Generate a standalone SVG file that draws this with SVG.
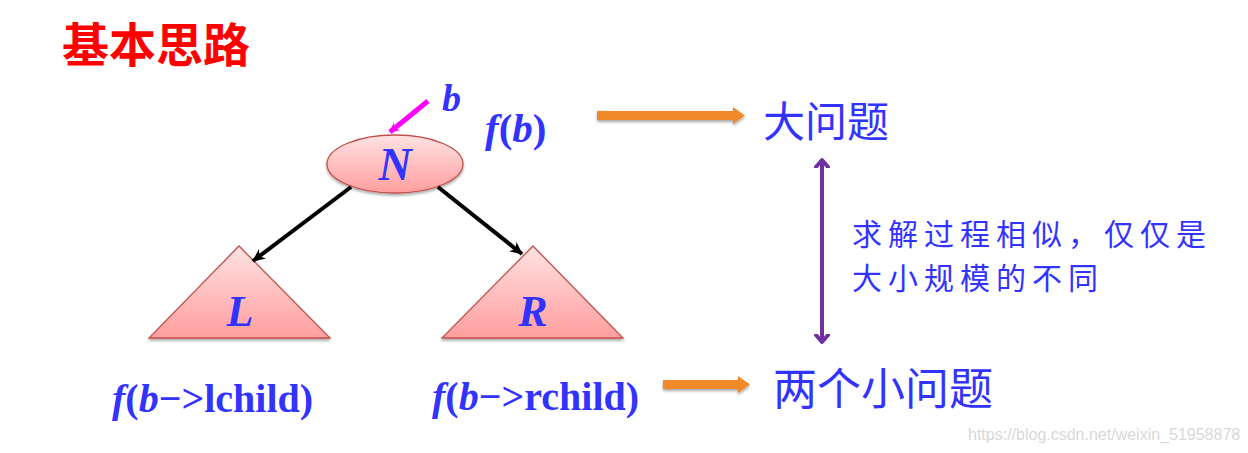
<svg xmlns="http://www.w3.org/2000/svg" width="1248" height="453" viewBox="0 0 1248 453">
<style>
.lat{font-family:"Liberation Serif","Times New Roman",serif;font-weight:bold;fill:#3333ff}
.it{font-style:italic}
.cjk{font-family:"Noto Sans CJK SC","Noto Sans CJK TC",sans-serif;fill:#3333ff}
.shape{fill:url(#pink);stroke:#c0504d;stroke-width:1.3}
</style>
<defs>
<linearGradient id="pink" x1="0" y1="0" x2="0" y2="1">
<stop offset="0" stop-color="#ffe2e2"/>
<stop offset="1" stop-color="#ff9e9e"/>
</linearGradient>
<filter id="sh" x="-20%" y="-20%" width="140%" height="160%">
<feGaussianBlur in="SourceAlpha" stdDeviation="1.5"/>
<feOffset dy="2" result="b"/>
<feComponentTransfer><feFuncA type="linear" slope="0.35"/></feComponentTransfer>
<feMerge><feMergeNode/><feMergeNode in="SourceGraphic"/></feMerge>
</filter>
<marker id="blk" markerWidth="14" markerHeight="12" refX="12" refY="6" orient="auto" markerUnits="userSpaceOnUse">
<path d="M0,0 L13,6 L0,12 L4,6 Z" fill="#000"/>
</marker>
<marker id="mag" markerWidth="12" markerHeight="12" refX="9" refY="6" orient="auto" markerUnits="userSpaceOnUse">
<path d="M0,1 L10,6 L0,11 L3,6 Z" fill="#ff00ff"/>
</marker>
<marker id="pur" markerWidth="16" markerHeight="16" refX="8" refY="8" orient="auto-start-reverse" markerUnits="userSpaceOnUse">
<path d="M1,2 L8,8 L1,14" fill="none" stroke="#7030a0" stroke-width="4" stroke-linecap="round" stroke-linejoin="round"/>
</marker>
</defs>
<rect width="1248" height="453" fill="#fff"/>

<text x="62" y="62" font-family="Noto Sans CJK SC,sans-serif" font-weight="bold" font-size="47" fill="#ff0000">基本思路</text>

<g id="node-N">
<ellipse class="shape" cx="395" cy="164" rx="68" ry="29" filter="url(#sh)"/>
<text class="lat it" x="395" y="180" font-size="46" text-anchor="middle">N</text>
</g>
<g id="node-L">
<polygon class="shape" points="239,246 330,338 149,338" filter="url(#sh)"/>
<text class="lat it" x="240" y="326" font-size="44" text-anchor="middle">L</text>
</g>
<g id="node-R">
<polygon class="shape" points="533,246 623,338 442,338" filter="url(#sh)"/>
<text class="lat it" x="533" y="326" font-size="44" text-anchor="middle">R</text>
</g>

<g id="labels">
<text class="lat it" x="442" y="111" font-size="38">b</text>
<text class="lat" x="485" y="142" font-size="41"><tspan class="it">f</tspan>(<tspan class="it">b</tspan>)</text>
<text class="lat" x="112" y="412" font-size="40"><tspan class="it">f</tspan>(<tspan class="it">b</tspan>−&gt;lchild)</text>
<text class="lat" x="432" y="410" font-size="40"><tspan class="it">f</tspan>(<tspan class="it">b</tspan>−&gt;rchild)</text>
<text class="cjk" x="763" y="137" font-size="42">大问题</text>
<text class="cjk" x="773" y="405" font-size="44">两个小问题</text>
<text class="cjk" x="852" y="245" font-size="30" letter-spacing="6">求解过程相似，仅仅是</text>
<text class="cjk" x="852" y="289" font-size="30" letter-spacing="6">大小规模的不同</text>
<text x="968" y="440" font-family="Liberation Sans,Arial,sans-serif" font-size="16" fill="#d8d8d8">https://blog.csdn.net/weixin_51958878</text>
</g>

<g id="connectors">
<line x1="428" y1="101" x2="390" y2="132" stroke="#ff00ff" stroke-width="5" marker-end="url(#mag)"/>
<line x1="351" y1="187" x2="253" y2="261" stroke="#000" stroke-width="4" marker-end="url(#blk)"/>
<line x1="438" y1="187" x2="522" y2="254" stroke="#000" stroke-width="4" marker-end="url(#blk)"/>
<g fill="#f0892a" filter="url(#sh)">
<path d="M597,111 L733,111 L733,107 L745,115.5 L733,124 L733,120 L597,120 Z"/>
<path d="M663,380 L738,380 L738,376 L750,384.5 L738,393 L738,389 L663,389 Z"/>
</g>
<line x1="822" y1="160" x2="822" y2="342" stroke="#7030a0" stroke-width="4" marker-start="url(#pur)" marker-end="url(#pur)"/>
</g>
</svg>
